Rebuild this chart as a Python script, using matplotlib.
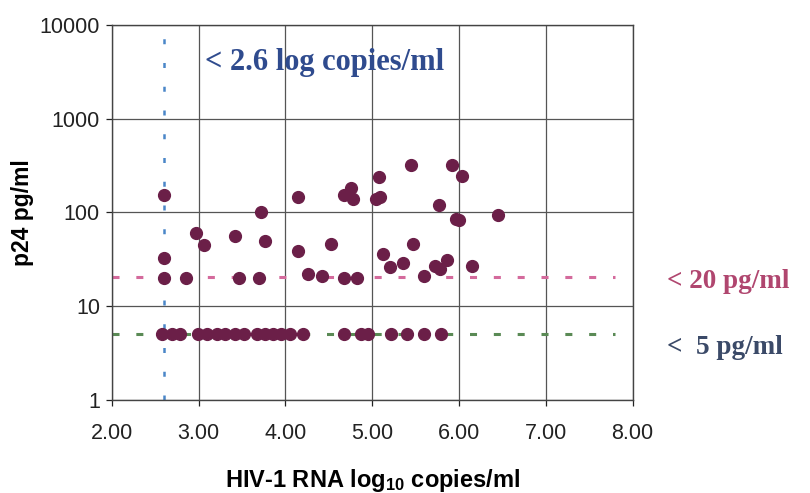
import matplotlib.pyplot as plt
from matplotlib.ticker import FixedLocator, NullLocator, FormatStrFormatter

plt.rcParams['mathtext.default'] = 'regular'

# detectable p24 samples (RNA log10 copies/ml, p24 pg/ml)
rna_hi = [2.60, 2.60, 2.60, 2.85, 2.97, 3.06, 3.42, 3.47, 3.70, 3.72, 3.77,
          4.15, 4.15, 4.26, 4.42, 4.53, 4.67, 4.76, 4.78, 4.67, 4.83, 5.04,
          5.09, 5.08, 5.13, 5.20, 5.36, 5.45, 5.47, 5.60, 5.72, 5.78, 5.86,
          5.77, 5.92, 6.04, 5.97, 6.00, 6.15, 6.45]
p24_hi = [152, 33, 20, 20, 61, 45, 56, 20, 20, 100, 50,
          146, 39, 22, 21, 46, 153, 181, 141, 20, 20, 141,
          147, 238, 36, 26, 29, 318, 46, 21, 27, 25, 31,
          120, 318, 248, 85, 83, 27, 95]

# samples below 5 pg/ml, plotted on the cut-off
rna_lo = [2.58, 2.69, 2.79, 2.99, 3.10, 3.21, 3.31, 3.42, 3.52, 3.67, 3.76,
          3.86, 3.95, 4.05, 4.20, 4.68, 4.87, 4.95, 5.22, 5.40, 5.60, 5.79]
p24_lo = [5.1] * len(rna_lo)

rna_cut = 2.6
p24_cut20 = 20.5
p24_cut5 = 5.1

x_ticks = [2, 3, 4, 5, 6, 7, 8]
y_ticks = [1, 10, 100, 1000, 10000]

fig = plt.figure(figsize=(8.1, 4.93), dpi=100)
ax = fig.add_axes([0.138, 0.189, 0.643, 0.760])

ax.set_yscale('log')
ax.set_xlim(2, 8)
ax.set_ylim(1, 10000)

ax.grid(True, color='#555555', lw=0.9)
ax.set_axisbelow(True)
for s in ax.spines.values():
    s.set_color('#444444')
    s.set_linewidth(1.0)

# cut-off lines
ax.plot([2, 7.8], [p24_cut20, p24_cut20], color='#d46a9c', lw=2.2, dashes=(2.3, 5.5), zorder=2)
ax.plot([2, 7.8], [p24_cut5, p24_cut5], color='#5a8a55', lw=2.2, dashes=(2.3, 5.5), zorder=2)
ax.plot([rna_cut, rna_cut], [1, 10000], color='#4a86c8', lw=1.8, dashes=(2.0, 7.5), zorder=2)

ax.plot(rna_hi, p24_hi, 'o', color='#6b1f48', ms=8.5, mec='#6b1f48', zorder=3)
ax.plot(rna_lo, p24_lo, 'o', color='#6b1f48', ms=8.5, mec='#6b1f48', zorder=3)

ax.xaxis.set_major_locator(FixedLocator(x_ticks))
ax.xaxis.set_major_formatter(FormatStrFormatter('%.2f'))
ax.yaxis.set_major_locator(FixedLocator(y_ticks))
ax.yaxis.set_major_formatter(FormatStrFormatter('%d'))
ax.yaxis.set_minor_locator(NullLocator())
ax.tick_params(labelsize=15.5, colors='#222222', length=4.5, width=0.9)
ax.tick_params(axis='x', pad=12)
ax.tick_params(axis='y', pad=4)
for lab in ax.get_xticklabels() + ax.get_yticklabels():
    lab.set_family('Liberation Sans')

ax.set_xlabel('HIV-1 RNA log$_{10}$ copies/ml', fontsize=17, fontweight='bold',
              family='Liberation Sans', labelpad=17)
ax.set_ylabel('p24 pg/ml', fontsize=16.5, fontweight='bold', family='Liberation Sans', labelpad=4)

ax.text(3.07, 4000, '< 2.6 log copies/ml', color='#2f4b8e', fontsize=22, fontweight='bold',
        family='Liberation Serif', va='center', ha='left')
fig.text(0.823, 1 - 281 / 493, '< 20 pg/ml', color='#b0466f',
         fontsize=19.5, fontweight='bold', family='Liberation Serif', va='center', ha='left')
fig.text(0.823, 1 - 347 / 493, '<  5 pg/ml', color='#3b4a68', fontsize=19.5,
         fontweight='bold', family='Liberation Serif', va='center', ha='left')

fig.savefig('out.png', dpi=100)
